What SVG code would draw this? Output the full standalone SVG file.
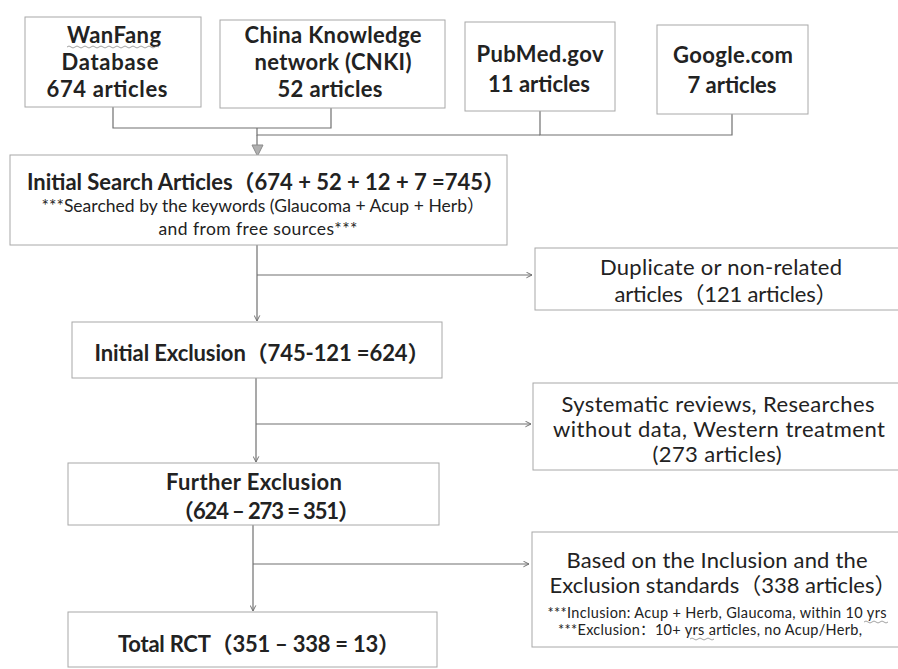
<svg xmlns="http://www.w3.org/2000/svg" width="898" height="669" viewBox="0 0 898 669">
<style>
.box{fill:#fff;stroke:#a8a8a8;stroke-width:1}
.b{font-family:"Lato","Noto Sans CJK SC",sans-serif;font-weight:bold;fill:#222;text-anchor:middle}
.r{font-family:"Lato","Noto Sans CJK SC",sans-serif;fill:#222;text-anchor:middle}
.t21{font-size:22px}
.t17{font-size:17.5px}
.t14{font-size:14.5px}
.c{fill:none;stroke:#707070;stroke-width:1.2}
.sq{fill:none;stroke:#8a8a8a;stroke-width:0.8}
</style>
<defs>
<marker id="ah" viewBox="0 0 10 10" refX="9" refY="5" markerWidth="7" markerHeight="7" markerUnits="userSpaceOnUse" orient="auto">
<path d="M1,1 L9,5 L1,9" fill="none" stroke="#707070" stroke-width="1.4"/>
</marker>
</defs>
<rect width="898" height="669" fill="#fff"/>

<g id="connectors">
<path class="c" d="M113,107 V128 H331 V108"/>
<path class="c" d="M540,111 V135 H732 V114"/>
<path class="c" d="M257,128 V135 H540"/>
<path class="c" d="M257,135 V146"/>
<polygon points="252,145 263,145 257.5,156" fill="#b0b0b0" stroke="#8a8a8a" stroke-width="1"/>
<path class="c" d="M257,245 V321" marker-end="url(#ah)"/>
<path class="c" d="M257,275 H532" marker-end="url(#ah)"/>
<path class="c" d="M256,378 V462" marker-end="url(#ah)"/>
<path class="c" d="M256,424 H531" marker-end="url(#ah)"/>
<path class="c" d="M253,525 V611" marker-end="url(#ah)"/>
<path class="c" d="M253,564 H529" marker-end="url(#ah)"/>
</g>

<g id="wanfang">
<rect class="box" x="25" y="17" width="176" height="90"/>
<text class="b t21" x="114" y="43" textLength="94">WanFang</text>
<path class="sq" d="M67,47 q2,-2 4,0 t4,0 t4,0 t4,0 t4,0 t4,0 t4,0 t4,0 t4,0 t4,0 t4,0 t4,0 t4,0 t4,0 t4,0 t4,0 t4,0 t4,0 t4,0 t4,0 t4,0 t4,0 t4,0"/>
<text class="b t21" x="110" y="70" textLength="97">Database</text>
<text class="b t21" x="107" y="97" textLength="121">674 articles</text>
</g>

<g id="cnki">
<rect class="box" x="220" y="20" width="225" height="88"/>
<text class="b t21" x="333" y="43" textLength="177">China Knowledge</text>
<text class="b t21" x="333" y="70" textLength="157">network (CNKI)</text>
<text class="b t21" x="330" y="97" textLength="105">52 articles</text>
</g>

<g id="pubmed">
<rect class="box" x="465" y="22" width="150" height="89"/>
<text class="b t21" x="540" y="62" textLength="127">PubMed.gov</text>
<text class="b t21" x="539" y="92" textLength="102">11 articles</text>
</g>

<g id="google">
<rect class="box" x="657" y="25" width="151" height="89"/>
<text class="b t21" x="733" y="63" textLength="120">Google.com</text>
<text class="b t21" x="732" y="93" textLength="89">7 articles</text>
</g>

<g id="initial-search">
<rect class="box" x="10" y="155" width="497" height="90"/>
<text class="b t21" x="266" y="190" textLength="478">Initial Search Articles（674 + 52 + 12 + 7 =745）</text>
<text class="r t17" x="263" y="212" textLength="443">***Searched by the keywords (Glaucoma + Acup + Herb）</text>
<text class="r t17" x="258" y="235" textLength="199">and from free sources***</text>
</g>

<g id="duplicate">
<rect class="box" x="535" y="248" width="380" height="62"/>
<text class="r t21" x="721" y="275" textLength="242">Duplicate or non-related</text>
<text class="r t21" x="726" y="302" textLength="223">articles（121 articles）</text>
</g>

<g id="initial-exclusion">
<rect class="box" x="72" y="322" width="370" height="56"/>
<text class="b t21" x="262" y="361" textLength="335">Initial Exclusion（745-121 =624）</text>
</g>

<g id="systematic">
<rect class="box" x="533" y="383" width="380" height="87"/>
<text class="r t21" x="718" y="412" textLength="313">Systematic reviews, Researches</text>
<text class="r t21" x="719" y="437" textLength="332">without data, Western treatment</text>
<text class="r t21" x="717" y="462" textLength="129">(273 articles)</text>
</g>

<g id="further-exclusion">
<rect class="box" x="68" y="463" width="371" height="62"/>
<text class="b t21" x="254" y="490" textLength="176">Further Exclusion</text>
<text class="b t21" x="266" y="519" textLength="188">（624 – 273 = 351）</text>
</g>

<g id="based">
<rect class="box" x="532" y="532" width="380" height="115"/>
<text class="r t21" x="717" y="568" textLength="301">Based on the Inclusion and the</text>
<text class="r t21" x="723" y="593" textLength="347">Exclusion standards（338 articles）</text>
<text class="r t14" x="717" y="618" textLength="339">***Inclusion: Acup + Herb, Glaucoma, within 10 yrs</text>
<path class="sq" d="M864,622 q2,-2 4,0 t4,0 t4,0 t4,0 t4,0 t4,0"/>
<text class="r t14" x="710" y="635" textLength="304">***Exclusion：10+ yrs articles, no Acup/Herb,</text>
<path class="sq" d="M690,639 q2,-2 4,0 t4,0 t4,0 t4,0 t4,0 t4,0"/>
</g>

<g id="total-rct">
<rect class="box" x="68" y="612" width="369" height="55"/>
<text class="b t21" x="259" y="652" textLength="282">Total RCT（351 – 338 = 13）</text>
</g>
</svg>
